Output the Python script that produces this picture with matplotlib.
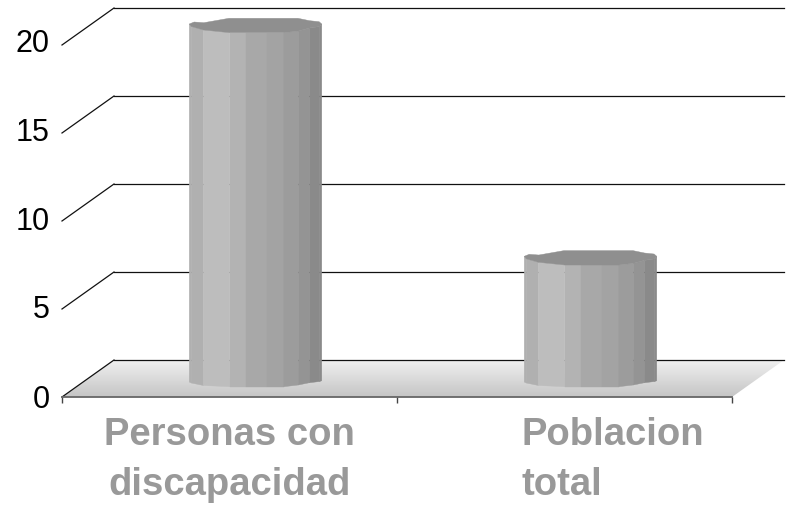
import matplotlib.pyplot as plt
import matplotlib.transforms as mtransforms
import numpy as np
from matplotlib.patches import Polygon

plt.rcParams["font.family"] = ["Liberation Sans", "DejaVu Sans"]

# data
categories = [["Personas con", "discapacidad"], ["Poblacion", "total"]]
values = [20, 6.8]
y_ticks = [0, 5, 10, 15, 20]

# pixel sizes of one category / one y unit on the front plane
PX_CAT = 335.0
PX_UNIT = 17.6
DEPTH_X = 52 / PX_CAT
DEPTH_Y = 37 / PX_UNIT

# 8 sided column: strip edges (0..1 across the width) and shades
edges = [0, 0.015, 0.107, 0.306, 0.430, 0.590, 0.714, 0.823, 0.908, 0.985, 1]
shades = ["#b0b0b0", "#b0b0b0", "#bdbdbd", "#b3b3b3", "#a8a8a8", "#a3a3a3", "#9c9c9c", "#949494", "#8a8a8a", "#8a8a8a"]
# how far the front edge hangs below the centre line at each strip edge, in px
cap_drop = [0, 2.5, 6, 8.7, 8.7, 8.7, 8.7, 7, 4, 2.5, 0]
base_drop = [4, 5, 7.5, 8.7, 8.7, 8.7, 8.7, 7, 4.7, 3.5, 2.7]
cap_back = [(1, 0), (0.98, -2.3), (0.908, -3.3), (0.82, -5.7), (0.30, -5.7), (0.11, -1.3), (0.037, -2)]
COL_WIDTH = 132.5 / PX_CAT
BASE_Y = 19 / PX_UNIT
CAP_LIFT = 2 / PX_UNIT

fig = plt.figure(figsize=(7.86, 5.05), dpi=100)
ax = fig.add_axes([62 / 786, 108 / 505, 670 / 786, 352 / 505])

# floor with a grey gradient
floor = Polygon(
    [(0, 0), (DEPTH_X, DEPTH_Y), (2 + DEPTH_X, DEPTH_Y), (2, 0)],
    closed=True, facecolor="none", edgecolor="none", transform=ax.transData,
)
ax.add_patch(floor)
grad = np.linspace(0.94, 0.77, 64).reshape(-1, 1)
img = ax.imshow(
    grad, cmap="gray", vmin=0, vmax=1, aspect="auto", origin="upper",
    extent=[0, 2 + DEPTH_X, 0, DEPTH_Y], zorder=1,
)
img.set_clip_box(fig.bbox)
img.set_clip_path(floor)

# back wall lines and side wall diagonals
for t in y_ticks:
    ax.plot([DEPTH_X, 2 + DEPTH_X], [t + DEPTH_Y, t + DEPTH_Y], color="#111111", lw=0.9, zorder=2, clip_on=False)
    ax.plot([0, DEPTH_X], [t, t + DEPTH_Y], color="#111111", lw=0.9, zorder=2, clip_on=False)

# front edge of the floor
ax.plot([0, 2], [0, 0], color="#666666", lw=1.3, zorder=3, clip_on=False)

# columns
for i, val in enumerate(values):
    left = i + 0.5 + 26 / PX_CAT - COL_WIDTH / 2
    xs = [left + e * COL_WIDTH for e in edges]
    top = BASE_Y + val + CAP_LIFT
    for j, shade in enumerate(shades):
        pts = [
            (xs[j], BASE_Y - base_drop[j] / PX_UNIT),
            (xs[j + 1], BASE_Y - base_drop[j + 1] / PX_UNIT),
            (xs[j + 1], top - cap_drop[j + 1] / PX_UNIT),
            (xs[j], top - cap_drop[j] / PX_UNIT),
        ]
        ax.add_patch(Polygon(pts, closed=True, facecolor=shade, edgecolor=shade, lw=0.3, zorder=4, clip_on=False))
    cap = [(x, top - d / PX_UNIT) for x, d in zip(xs, cap_drop)]
    cap += [(left + f * COL_WIDTH, top - d / PX_UNIT) for f, d in cap_back]
    ax.add_patch(Polygon(cap, closed=True, facecolor="#8f8f8f", edgecolor="#8f8f8f", lw=0.3, zorder=5, clip_on=False))

ax.set_xlim(0, 2)
ax.set_ylim(0, 20)
ax.spines[["top", "left", "bottom", "right"]].set_visible(False)
ax.patch.set_visible(False)

ax.set_yticks(y_ticks)
ax.tick_params(axis="y", length=0, pad=9, labelsize=22, labelcolor="black")
# the labels in the picture drift upward a little compared to the front plane
for t, lab in zip(y_ticks, ax.get_yticklabels()):
    lab.set_transform(lab.get_transform() + mtransforms.ScaledTranslation(0, (t * 0.2 + 1) / 100, fig.dpi_scale_trans))
ax.set_xticks([0, 1, 2])
ax.set_xticklabels([])
ax.tick_params(axis="x", length=4.5, width=1, color="#444444")

# category labels, first centred, second left aligned as in the picture
label_style = dict(va="baseline", fontsize=27.5, fontweight="bold", color="#999999", clip_on=False)
for line, base in zip(categories[0], [-48, -98]):
    ax.text(0.5, base / PX_UNIT, line, ha="center", **label_style)
for line, base in zip(categories[1], [-48, -98]):
    ax.text(1.372, base / PX_UNIT, line, ha="left", **label_style)

fig.savefig("out.png", dpi=100, facecolor="white")
